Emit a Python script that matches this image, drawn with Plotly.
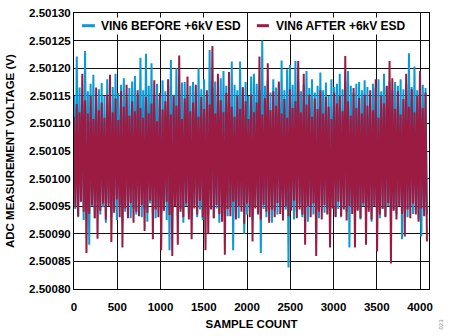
import plotly.graph_objects as go

# ADC readings of VIN6, one point every 16 samples, in microvolts above 2.500000 V
sample_count = list(range(0, 4096, 16))

before_uv = [
    1150, 945, 1221, 930, 1165, 958, 1140, 925, 1231, 940, 1158, 880, 1172, 950, 1188, 928,
    1145, 960, 1162, 935, 1173, 948, 1150, 920, 1180, 955, 1142, 930, 1166, 944, 1190, 925,
    1155, 952, 1170, 920, 1182, 940, 1148, 958, 1164, 928, 1176, 946, 1186, 935, 1152, 950,
    1219, 930, 1160, 945, 1226, 922, 1168, 955, 1209, 938, 1150, 928, 1172, 950, 1144, 935,
    1178, 948, 1158, 925, 1166, 870, 1215, 940, 1152, 956, 1200, 932, 1160, 945, 1174, 920,
    1175, 950, 1148, 936, 1168, 926, 1175, 952, 1156, 930, 1200, 944, 1162, 925, 1180, 948,
    1150, 935, 1233, 950, 1164, 928, 1176, 946, 1158, 920, 1182, 940, 1195, 955, 1168, 932,
    1152, 948, 1212, 870, 1170, 940, 1160, 928, 1212, 952, 1166, 900, 1175, 935, 1150, 946,
    1185, 925, 1190, 950, 1172, 938, 1160, 865, 1250, 945, 1168, 930, 1178, 952, 1156, 920,
    1180, 942, 1165, 935, 1172, 950, 1214, 928, 1160, 944, 1198, 839, 1206, 948, 1170, 926,
    1213, 940, 1176, 955, 1158, 930, 1170, 946, 1195, 922, 1164, 950, 1180, 935, 1156, 944,
    1168, 928, 1192, 952, 1160, 938, 1174, 946, 1150, 925, 1180, 950, 1166, 932, 1172, 945,
    1190, 930, 1162, 952, 1176, 940, 1195, 875, 1168, 948, 1156, 930, 1172, 944, 1175, 926,
    1160, 950, 1178, 935, 1166, 946, 1150, 922, 1172, 952, 1164, 938, 1180, 928, 1158, 945,
    1190, 932, 1166, 950, 1176, 926, 1160, 944, 1175, 935, 1168, 952, 1180, 890, 1162, 940,
    1172, 930, 1227, 948, 1166, 936, 1203, 944, 1160, 926, 1178, 895, 1170, 950, 1164, 935,
]

after_uv = [
    1112, 948, 1135, 932, 1120, 958, 1190, 940, 1142, 865, 1118, 936, 1150, 952, 1108, 928,
    1165, 891, 1124, 942, 1138, 955, 1110, 926, 1152, 950, 1188, 885, 1120, 938, 1145, 962,
    1106, 930, 1158, 875, 1130, 946, 1170, 928, 1114, 956, 1140, 920, 1122, 940, 1160, 932,
    1128, 952, 1110, 905, 1148, 938, 1118, 960, 1136, 890, 1178, 944, 1104, 930, 1155, 870,
    1125, 942, 1140, 958, 1180, 934, 1116, 860, 1150, 950, 1132, 880, 1223, 940, 1108, 930,
    1145, 955, 1185, 926, 1122, 890, 1138, 946, 1170, 935, 1112, 960, 1148, 930, 1126, 870,
    1160, 900, 1134, 944, 1240, 928, 1118, 952, 1190, 936, 1142, 922, 1120, 862, 1155, 945,
    1193, 932, 1130, 958, 1112, 926, 1150, 950, 1126, 940, 1165, 918, 1140, 955, 1108, 930,
    1152, 886, 1120, 946, 1138, 935, 1221, 926, 1116, 952, 1146, 940, 1209, 920, 1124, 944,
    1158, 930, 1132, 956, 1176, 936, 1118, 924, 1144, 950, 1110, 932, 1162, 942, 1128, 960,
    1140, 928, 1213, 944, 1120, 935, 1190, 880, 1134, 950, 1152, 930, 1112, 955, 1145, 860,
    1126, 940, 1160, 926, 1118, 952, 1148, 935, 1130, 875, 1108, 946, 1156, 930, 1136, 958,
    1150, 932, 1122, 944, 1222, 924, 1140, 950, 1114, 936, 1164, 875, 1128, 942, 1146, 928,
    1118, 955, 1152, 880, 1132, 940, 1160, 926, 1124, 950, 1180, 868, 1110, 935, 1150, 946,
    1136, 930, 1168, 956, 1213, 846, 1182, 942, 1126, 926, 1158, 950, 1116, 936, 1144, 895,
    1190, 944, 1130, 928, 1162, 955, 1120, 935, 1150, 922, 1195, 946, 1128, 932, 1156, 886,
]

series_names = ["VIN6 BEFORE +6kV ESD", "VIN6 AFTER +6kV ESD"]
x_ticks = [0, 500, 1000, 1500, 2000, 2500, 3000, 3500, 4000]
y_ticks = [2.50080, 2.50085, 2.50090, 2.50095, 2.50100,
           2.50105, 2.50110, 2.50115, 2.50120, 2.50125, 2.50130]

BLUE = "#0B9AD6"
RED = "#9C1B43"
FONT = "Liberation Sans, Arial, sans-serif"


def to_volts(values_uv):
    return [2.5 + v * 1e-6 for v in values_uv]


fig = go.Figure()
fig.add_trace(go.Scatter(x=sample_count, y=to_volts(before_uv), mode="lines",
                         name=series_names[0], line=dict(color=BLUE, width=2)))
fig.add_trace(go.Scatter(x=sample_count, y=to_volts(after_uv), mode="lines",
                         name=series_names[1], line=dict(color=RED, width=2)))

axis_font = dict(family=FONT, size=11.5, color="black", weight="bold")
key_font = dict(family=FONT, size=12, color="black", weight="bold")

fig.update_layout(
    width=450, height=336,
    margin=dict(l=74, r=21, t=7, b=44),
    paper_bgcolor="white", plot_bgcolor="white",
    showlegend=False,
    font=dict(family=FONT),
)

fig.update_xaxes(
    range=[0, 4104], tickvals=x_ticks, ticks="outside", ticklen=7,
    tickcolor="rgba(0,0,0,0)", tickfont=axis_font,
    showgrid=True, gridcolor="#111", gridwidth=1, zeroline=False,
    showline=True, linecolor="black", linewidth=1, mirror=True,
    title=dict(text="SAMPLE COUNT", font=axis_font, standoff=8),
)
fig.update_yaxes(
    range=[2.50080, 2.50130], tickvals=y_ticks, tickformat=".5f", ticks="", tickfont=axis_font,
    showgrid=True, gridcolor="#111", gridwidth=1, zeroline=False,
    showline=True, linecolor="black", linewidth=1, mirror=True,
)

# vertical axis title, placed close to the left edge
fig.add_annotation(text="ADC MEASUREMENT VOLTAGE (V)", x=0, y=0.5, xref="paper", yref="paper",
                   xanchor="center", yanchor="middle", xshift=-64, textangle=-90,
                   showarrow=False, font=axis_font)

# series key along the top of the plot area
key_y = 0.954
for name, color, x0, x1, xt in [(series_names[0], BLUE, 0.0225, 0.059, 0.071),
                                (series_names[1], RED, 0.515, 0.549, 0.563)]:
    fig.add_shape(type="line", xref="paper", yref="paper", x0=x0, x1=x1,
                  y0=key_y, y1=key_y, line=dict(color=color, width=3))
    fig.add_annotation(text=name, x=xt, y=key_y, xref="paper", yref="paper",
                       xanchor="left", yanchor="middle", showarrow=False,
                       bgcolor="white", borderpad=1, font=key_font)

fig.add_annotation(text="023", x=1, y=0, xref="paper", yref="paper",
                   xshift=16, yshift=-43, textangle=-90, showarrow=False,
                   font=dict(family=FONT, size=6, color="#888"))

fig.write_html("out.html")
